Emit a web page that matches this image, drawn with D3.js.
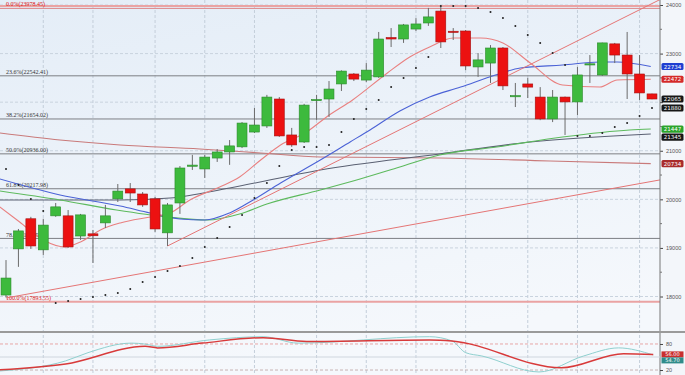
<!DOCTYPE html>
<html>
<head>
<meta charset="utf-8">
<script src="https://cdn.jsdelivr.net/npm/d3@7"></script>
<style>
  body { margin: 0; background: #fff; }
  svg { display: block; font-family: "DejaVu Sans", sans-serif; }
</style>
</head>
<body>
<svg id="chart" width="685" height="375"></svg>
<script>
// weekly candles
const opens  = [18030,18980,19600,18960,19660,19660,19245,19290,19515,20010,20215,20110,20010,19310,19925,20690,20625,20850,20975,21080,21385,21510,22065,21325,21180,22040,22065,22375,22580,22455,22520,23330,23300,23505,23630,23875,23460,23465,22725,22805,23115,22120,22375,22105,21655,22105,22005,22770,22560,23200,22970,22580,22170]
const highs  = [18750,19390,19640,19600,19925,19780,19700,19370,19885,20315,20335,20150,20050,19925,20685,20915,20915,21035,21220,21590,21880,22150,22105,21470,21965,22150,22435,22655,22600,22805,23445,23525,23610,23730,23940,23965,23525,23485,23010,23175,23135,22395,22500,22310,22250,22115,22725,22970,23225,23220,23445,22970,22175]
const lows   = [17980,18610,18980,18855,19640,19000,19165,18690,19410,19945,19945,19845,19330,19040,19700,20605,20440,20770,20710,21055,21365,21470,21285,21080,21160,21635,21695,22230,22435,22415,22500,23135,23220,23465,23570,23115,23280,22660,22520,22395,22250,21900,22085,21630,21590,21325,21735,22395,22540,22805,22065,22045,22060]
const closes = [18380,19350,19040,19470,19845,19020,19680,19250,19660,20170,20130,19885,19390,19885,20645,20705,20870,20975,21100,21570,21530,22105,21305,21120,21940,22055,22270,22640,22475,22660,23300,23300,23590,23610,23755,23240,23440,22745,22870,23115,22335,22135,22310,21655,22105,22005,22560,22790,23220,22970,22580,22190,22065]

// parabolic SAR dots
const sar = [20625,20296,20008,19760,17867,17908,17949,17990,18032,18073,18155,18299,18402,18526,18629,18793,19020,19205,19431,19678,20028,20337,20687,21016,21078,21078,21119,21386,21654,21860,22045,22312,22498,22703,22930,23979,23979,23979,23938,23856,23732,23568,23383,23218,23012,22765,21304,21304,21366,21489,21572,21716,21880]

// moving averages as [candle index, value]
const maFast = [[-0.5,19843],[1.1,19534],[3,19164],[4.75,19020],[6,19123],[7.6,19370],[9.2,19514],[11.6,19637],[13.2,19719],[14.8,19987],[17.2,20254],[18.8,20460],[20.5,20810],[22.1,21119],[24.2,21386],[25.8,21695],[27.9,22045],[30.7,22601],[32.5,22930],[34.1,23136],[36,23321],[38.2,23321],[40,23218],[42.2,22806],[44.8,22354],[47.8,22312],[49.2,22457],[51.9,22472]]
const maBlue = [[-0.5,20419],[4.35,20090],[9.2,19863],[11.6,19719],[14,19596],[16,19575],[18,19719],[19.9,19987],[22.1,20337],[25.3,20810],[27.7,21181],[29.3,21428],[31.7,21819],[34.1,22107],[36.6,22312],[39.4,22559],[41.4,22703],[44.8,22765],[47.8,22827],[49.2,22827],[51.9,22734]]
const maGreen = [[-0.5,20172],[4.35,19987],[8.9,19781],[13,19637],[16.2,19575],[18.8,19699],[21,19904],[25.3,20193],[28.5,20419],[31.7,20666],[34.9,20913],[39.5,21078],[44.8,21283],[50.2,21428],[51.9,21447]]
const maDark = [[-0.5,19987],[9.2,19987],[13.2,20028],[18,20234],[25.3,20604],[34.9,20934],[42.2,21181],[51.9,21345]]
const maLong = [[-0.5,21366],[4.35,21222],[9.2,21119],[15.6,21036],[20.5,20954],[25.3,20872],[34.9,20851],[43.8,20790],[51.9,20734]]

// trend lines, two anchors each
const trendLow = [[0,17970],[52,20370]]
const trendUp = [[13,19040],[52,24030]]

// fibonacci retracement
const fibHigh = 23978.45
const fibLow = 17893.55
const fibRatios = [0, 0.236, 0.382, 0.5, 0.618, 0.786, 1]
const topLevels = [23930]

const priceTicks = [18000,19000,20000,21000,22000,23000,24000]
const monthStarts = [3,7,12,16,20,25,29,33,37,42,46,51]

// stochastic
const stochK = [[-0.5,17.8],[4.8,41],[6.6,60],[10.1,82],[11.2,79.7],[12.2,74.6],[16.4,89.4],[20.7,96.8],[23.5,82],[34.1,96.8],[35.9,87],[37,60],[38.3,52.4],[42.9,15.5],[46.5,52.4],[49.3,71],[52.1,54.7]]
const stochD = [[-0.5,20.6],[4.8,34],[11.2,74.6],[12.2,71],[15.8,82],[20.7,94.5],[24.2,85.7],[34.1,89.4],[35.9,87],[44.7,25],[49.7,57.5],[52.1,56]]
const stochTicks = [20, 80]

const svg = d3.select('#chart')
const W = 685, plotR = 660, mainB = 331

const x = d3.scaleLinear().domain([0, 52]).range([6, 652])
const y = d3.scaleLinear().domain([18000, 24000]).range([296.5, 5])
const ys = d3.scaleLinear().domain([0, 100]).range([378.7, 335.3])
const step = x(1) - x(0)

let defs = svg.append('defs')
let grad = defs.append('linearGradient').attr('id', 'bg').attr('x1', 0).attr('y1', 0).attr('x2', 0.3).attr('y2', 1)
grad.append('stop').attr('offset', 0).attr('stop-color', '#e4edf7')
grad.append('stop').attr('offset', 1).attr('stop-color', '#f5f8fc')
defs.append('clipPath').attr('id', 'clipMain').append('rect').attr('x', 0).attr('y', 0).attr('width', plotR).attr('height', mainB)
defs.append('clipPath').attr('id', 'clipStoch').append('rect').attr('x', 0).attr('y', 333).attr('width', plotR).attr('height', 42)

svg.append('rect').attr('width', W).attr('height', 375).attr('fill', '#f3f6fa')
svg.append('rect').attr('width', plotR).attr('height', 375).attr('fill', 'url(#bg)')

// grid
svg.append('g').selectAll('line').data(priceTicks).join('line')
  .attr('x1', 0).attr('x2', plotR).attr('y1', d => y(d)).attr('y2', d => y(d))
  .attr('stroke', '#c9d3de').attr('stroke-dasharray', '3,2')
svg.append('g').selectAll('line').data(monthStarts).join('line')
  .attr('x1', d => x(d)).attr('x2', d => x(d)).attr('y1', 0).attr('y2', 375)
  .attr('stroke', '#c4ceda').attr('stroke-dasharray', '3,2')

const main = svg.append('g').attr('clip-path', 'url(#clipMain)')

// fib levels
const fib = fibRatios.map(r => ({ r, v: fibHigh - r * (fibHigh - fibLow) }))
main.selectAll('line.top').data(topLevels).join('line').attr('class', 'top')
  .attr('x1', 0).attr('x2', plotR).attr('y1', d => y(d)).attr('y2', d => y(d))
  .attr('stroke', '#d96a6a').attr('stroke-width', 0.8)
main.selectAll('line.fib').data(fib).join('line').attr('class', 'fib')
  .attr('x1', 0).attr('x2', plotR).attr('y1', d => y(d.v)).attr('y2', d => y(d.v))
  .attr('stroke', d => (d.r == 0 || d.r == 1) ? '#eaa3a3' : '#7d7f84')
  .attr('stroke-width', d => (d.r == 0 || d.r == 1) ? 2 : 1)
main.selectAll('text.fib').data(fib).join('text').attr('class', 'fib')
  .attr('x', 6).attr('y', d => Math.max(6, y(d.v) - 1.5))
  .attr('font-family', '"Liberation Serif", serif').attr('font-size', 6)
  .attr('fill', d => (d.r == 0 || d.r == 1) ? '#d11' : '#333')
  .text(d => `${(d.r * 100).toFixed(1)}%(${d.v.toFixed(2)})`)

// moving averages and trend lines
const line = d3.line().x(d => x(d[0])).y(d => y(d[1])).curve(d3.curveMonotoneX)
const maList = [
  { data: maLong, color: '#c97a7a' },
  { data: maDark, color: '#5a6072' },
  { data: maGreen, color: '#5dba5d' },
  { data: maBlue, color: '#4b62d6' },
  { data: maFast, color: '#e98080' }
]
maList.forEach(m => {
  main.append('path').attr('d', line(m.data)).attr('fill', 'none')
    .attr('stroke', m.color).attr('stroke-width', 1.1)
})

function extend(t) {
  let slope = (t[1][1] - t[0][1]) / (t[1][0] - t[0][0])
  let end = x.invert(plotR)
  return [t[0], [end, t[0][1] + slope * (end - t[0][0])]]
}
const straight = d3.line().x(d => x(d[0])).y(d => y(d[1]))
;[trendLow, trendUp].forEach(t => {
  main.append('path').attr('d', straight(extend(t))).attr('fill', 'none')
    .attr('stroke', '#e57575').attr('stroke-width', 1)
})

// candles
const candles = d3.range(opens.length).map(i => ({ i, o: opens[i], h: highs[i], l: lows[i], c: closes[i] }))
const cg = main.append('g')
cg.selectAll('line').data(candles).join('line')
  .attr('x1', d => x(d.i)).attr('x2', d => x(d.i))
  .attr('y1', d => y(d.h)).attr('y2', d => y(d.l))
  .attr('stroke', '#6b6b6b').attr('stroke-width', 1)
cg.selectAll('rect').data(candles).join('rect')
  .attr('x', d => x(d.i) - step * 0.4).attr('width', step * 0.8)
  .attr('y', d => y(Math.max(d.o, d.c)))
  .attr('height', d => Math.max(1.2, Math.abs(y(d.o) - y(d.c))))
  .attr('fill', d => d.c >= d.o ? '#3dba3d' : '#ec1111')
  .attr('stroke', d => d.c >= d.o ? '#2b8a2b' : '#a51010').attr('stroke-width', 0.6)

// SAR
main.append('g').selectAll('circle').data(sar).join('circle')
  .attr('cx', (d, i) => x(i)).attr('cy', d => y(d)).attr('r', 1)
  .attr('fill', '#222')

// price badges
const badges = [
  { v: maBlue[maBlue.length - 1][1], color: '#1f3fd1' },
  { v: maFast[maFast.length - 1][1], color: '#d42a2a' },
  { v: closes[closes.length - 1], color: '#161616' },
  { v: sar[sar.length - 1], color: '#161616' },
  { v: maGreen[maGreen.length - 1][1], color: '#2aa42a' },
  { v: maDark[maDark.length - 1][1], color: '#161616' },
  { v: maLong[maLong.length - 1][1], color: '#a92b2b' }
].sort((a, b) => b.v - a.v)
let lastY = -100
badges.forEach(b => {
  b.y = Math.max(y(b.v), lastY + 8)
  lastY = b.y
})

// right axis, labels hidden where a badge covers them
const axis = d3.axisRight(y).tickValues(priceTicks).tickSize(3).tickFormat(d3.format('d'))
const ag = svg.append('g').attr('transform', `translate(${plotR},0)`).call(axis)
ag.select('.domain').remove()
ag.selectAll('text').attr('font-size', 5.5).attr('fill', '#555').attr('x', 6)
  .filter(d => badges.some(b => Math.abs(b.y - y(d)) < 8)).remove()
ag.selectAll('line').attr('stroke', '#444')
svg.append('g').selectAll('line').data(d3.range(18500, 24000, 1000)).join('line')
  .attr('x1', plotR).attr('x2', plotR + 2).attr('y1', d => y(d)).attr('y2', d => y(d))
  .attr('stroke', '#777')
svg.append('line').attr('x1', plotR).attr('x2', plotR).attr('y1', 0).attr('y2', 375)
  .attr('stroke', '#777').attr('stroke-width', 1)

badges.forEach(b => {
  svg.append('rect').attr('x', plotR + 1.5).attr('y', b.y - 3.6).attr('width', 22).attr('height', 7.2)
    .attr('rx', 1.5).attr('fill', b.color)
  svg.append('text').attr('x', plotR + 12.5).attr('y', b.y + 2).attr('text-anchor', 'middle')
    .attr('font-size', 5.5).attr('fill', '#fff').text(Math.round(b.v))
})

// stochastic panel
svg.append('line').attr('x1', 0).attr('x2', W).attr('y1', 332).attr('y2', 332)
  .attr('stroke', '#9a9a9a').attr('stroke-width', 2)
const st = svg.append('g').attr('clip-path', 'url(#clipStoch)')
st.append('line').attr('x1', 0).attr('x2', plotR).attr('y1', ys(50)).attr('y2', ys(50))
  .attr('stroke', '#cfd6de')
st.append('line').attr('x1', 0).attr('x2', plotR).attr('y1', ys(80)).attr('y2', ys(80))
  .attr('stroke', '#e7a6a6').attr('stroke-dasharray', '3,2')
st.append('line').attr('x1', 0).attr('x2', plotR).attr('y1', ys(20)).attr('y2', ys(20))
  .attr('stroke', '#c8b2b2').attr('stroke-dasharray', '3,2')
const sline = d3.line().x(d => x(d[0])).y(d => ys(d[1])).curve(d3.curveMonotoneX)
st.append('path').attr('d', sline(stochK)).attr('fill', 'none').attr('stroke', '#8fd0cf').attr('stroke-width', 1)
st.append('path').attr('d', sline(stochD)).attr('fill', 'none').attr('stroke', '#d83a3a').attr('stroke-width', 1.5)

const dY = ys(stochD[stochD.length - 1][1])
const kY = Math.max(ys(stochK[stochK.length - 1][1]), dY + 6)
const sag = svg.append('g').attr('transform', `translate(${plotR},0)`)
  .call(d3.axisRight(ys).tickValues(stochTicks).tickSize(3))
sag.select('.domain').remove()
sag.selectAll('text').attr('font-size', 5.5).attr('fill', '#555').attr('x', 6)
sag.selectAll('line').attr('stroke', '#444')

;[{ yy: dY, v: stochD[stochD.length - 1][1], color: '#c92f2f' },
  { yy: kY, v: stochK[stochK.length - 1][1], color: '#2f8c8a' }].forEach(b => {
  svg.append('rect').attr('x', plotR + 1.5).attr('y', b.yy - 3).attr('width', 22).attr('height', 6)
    .attr('fill', b.color)
  svg.append('text').attr('x', plotR + 12.5).attr('y', b.yy + 1.8).attr('text-anchor', 'middle')
    .attr('font-size', 5).attr('fill', '#fff').text(b.v.toFixed(2))
})
</script>
</body>
</html>
